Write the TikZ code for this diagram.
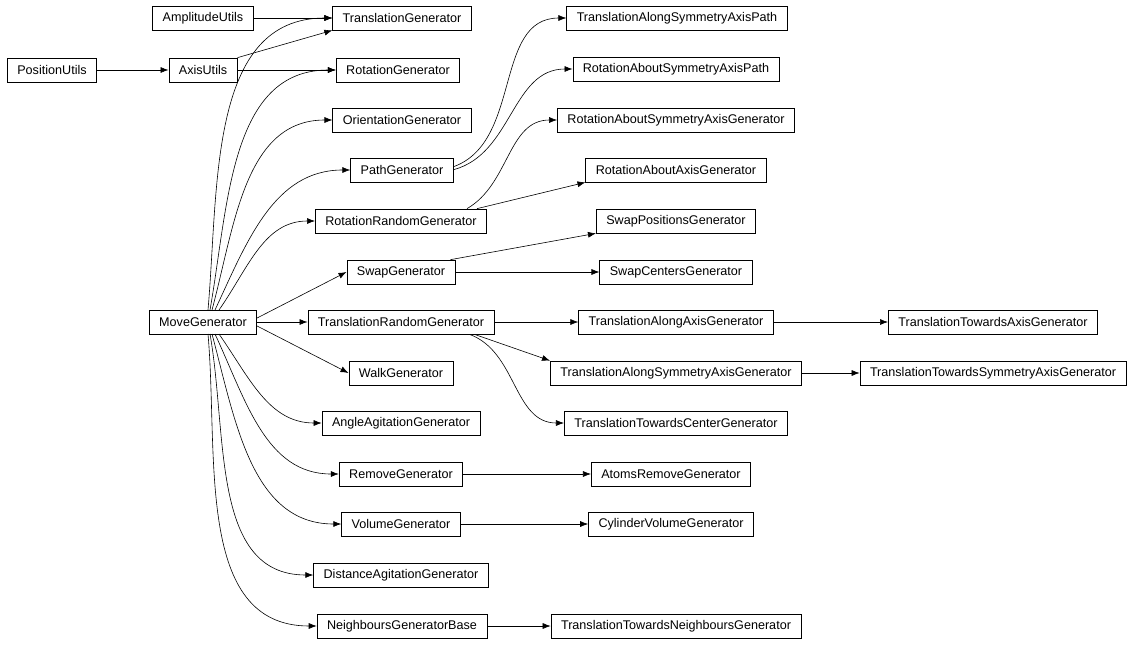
\documentclass[tikz,border=0pt]{standalone}
\usepackage{fontspec}
\setmainfont{Liberation Sans}
\usetikzlibrary{arrows.meta}
\begin{document}
\begin{tikzpicture}[x=1pt,y=-1pt,
  n/.style={draw,line width=0.7pt,font=\fontsize{12.6}{14}\selectfont,minimum height=24pt,inner xsep=10pt,inner ysep=0pt,anchor=center},
  e/.style={-{Latex[length=8pt,width=6pt]},line width=0.6pt}]
\useasboundingbox (0,0) rectangle (1138,645);
\node[n] (amp) at (203,18) {AmplitudeUtils};
\node[n] (tg) at (402,18) {TranslationGenerator};
\node[n] (pos) at (52,70) {PositionUtils};
\node[n] (axis) at (203,70) {AxisUtils};
\node[n] (rg) at (398,70) {RotationGenerator};
\node[n] (tasap) at (677,18) {TranslationAlongSymmetryAxisPath};
\node[n] (rasap) at (676,69) {RotationAboutSymmetryAxisPath};
\node[n] (og) at (402,120) {OrientationGenerator};
\node[n] (rasag) at (676,120) {RotationAboutSymmetryAxisGenerator};
\node[n] (pg) at (402,170) {PathGenerator};
\node[n] (raag) at (676,170) {RotationAboutAxisGenerator};
\node[n] (rrg) at (401,221) {RotationRandomGenerator};
\node[n] (spg) at (676,221) {SwapPositionsGenerator};
\node[n] (sg) at (401,272) {SwapGenerator};
\node[n] (scg) at (676,272) {SwapCentersGenerator};
\node[n] (mg) at (203,322) {MoveGenerator};
\node[n] (trg) at (401,322) {TranslationRandomGenerator};
\node[n] (taag) at (676,322) {TranslationAlongAxisGenerator};
\node[n] (ttag) at (993,322) {TranslationTowardsAxisGenerator};
\node[n] (wg) at (401,373) {WalkGenerator};
\node[n] (tasag) at (676,373) {TranslationAlongSymmetryAxisGenerator};
\node[n] (ttsag) at (993,373) {TranslationTowardsSymmetryAxisGenerator};
\node[n] (aag) at (401,423) {AngleAgitationGenerator};
\node[n] (ttcg) at (676,423) {TranslationTowardsCenterGenerator};
\node[n] (remg) at (401,474) {RemoveGenerator};
\node[n] (arg) at (671,474) {AtomsRemoveGenerator};
\node[n] (vg) at (401,524) {VolumeGenerator};
\node[n] (cvg) at (671,524) {CylinderVolumeGenerator};
\node[n] (dag) at (401,575) {DistanceAgitationGenerator};
\node[n] (ngb) at (402,626) {NeighboursGeneratorBase};
\node[n] (ttng) at (676,626) {TranslationTowardsNeighboursGenerator};

\draw[e] (amp) -- (tg);
\draw[e] (pos) -- (axis);
\draw[e] (axis.north east) -- (tg.south west);
\draw[e] (axis) -- (rg);
\draw[e] (mg) ++(5,-12) to[out=85,in=180] (tg.west);
\draw[e] (mg) ++(7,-12) to[out=80,in=180] (rg.west);
\draw[e] (mg) ++(9,-12) to[out=75,in=180] (og.west);
\draw[e] (mg) ++(12,-12) to[out=65,in=180] (pg.west);
\draw[e] (mg) ++(16,-12) to[out=55,in=180] (rrg.west);
\draw[e] (mg.east) ++(0,-4) -- (sg.west);
\draw[e] (mg) -- (trg);
\draw[e] (mg.east) ++(0,4) -- (wg.west);
\draw[e] (mg) ++(16,12) to[out=-55,in=180] (aag.west);
\draw[e] (mg) ++(12,12) to[out=-65,in=180] (remg.west);
\draw[e] (mg) ++(9,12) to[out=-75,in=180] (vg.west);
\draw[e] (mg) ++(7,12) to[out=-80,in=180] (dag.west);
\draw[e] (mg) ++(5,12) to[out=-85,in=180] (ngb.west);
\draw[e] (pg.north east) ++(0,9) to[out=20,in=180] (tasap.west);
\draw[e] (pg.north east) ++(0,12) to[out=15,in=180] (rasap.west);
\draw[e] (rrg.north east) ++(-20,0) to[out=30,in=180] (rasag.west);
\draw[e] (rrg.north east) ++(-10,0) -- (raag.south west);
\draw[e] (sg.north east) ++(-5,0) -- (spg.south west);
\draw[e] (sg) -- (scg);
\draw[e] (trg) -- (taag);
\draw[e] (trg.south east) ++(-20,0) -- (tasag.north west);
\draw[e] (trg.south east) ++(-25,0) to[out=-20,in=180] (ttcg.west);
\draw[e] (taag) -- (ttag);
\draw[e] (tasag) -- (ttsag);
\draw[e] (remg) -- (arg);
\draw[e] (vg) -- (cvg);
\draw[e] (ngb) -- (ttng);
\end{tikzpicture}
\end{document}
